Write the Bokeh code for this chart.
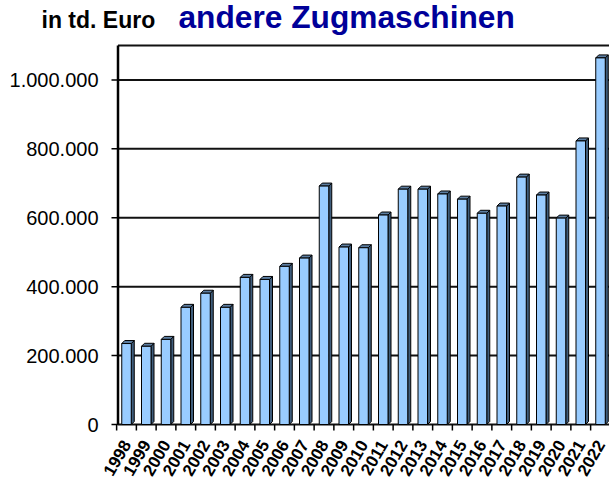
import math
from bokeh.plotting import figure
from bokeh.models import Range1d
from bokeh.core.properties import value
from bokeh.embed import file_html
from bokeh.resources import INLINE

years = ["1998", "1999", "2000", "2001", "2002", "2003", "2004", "2005", "2006",
         "2007", "2008", "2009", "2010", "2011", "2012", "2013", "2014", "2015",
         "2016", "2017", "2018", "2019", "2020", "2021", "2022"]
values = [235000, 227000, 247000, 340000, 381000, 340000, 427000, 421000, 459000,
          483000, 692000, 515000, 513000, 608000, 683000, 683000, 669000, 654000,
          613000, 634000, 718000, 666000, 599000, 823000, 1064000]
y_ticks = [0, 200000, 400000, 600000, 800000, 1000000]
y_tick_labels = ["0", "200.000", "400.000", "600.000", "800.000", "1.000.000"]
y_wall_top = 1100000
unit_label = "in td. Euro"
title_text = "andere Zugmaschinen"

# The page template has no body margin: figure pixels = picture pixels.
W, H = 609, 482
FONT = "Liberation Sans"
C0 = 126.0        # px x of first category centre
PX_X = 19.75      # px per category
Y0_PX = 424       # px y of value 0
WALL_TOP_PX = 45
PX_Y = (Y0_PX - WALL_TOP_PX) / y_wall_top

def xd(px):
    return (px - C0) / PX_X

def yd(py):
    return (Y0_PX - py) / PX_Y

p = figure(width=W, height=H,
           x_range=Range1d(xd(0), xd(W)),
           y_range=Range1d(yd(H), yd(0)),
           x_axis_location=None, y_axis_location=None,
           output_backend="svg", toolbar_location=None,
           min_border=0)
p.outline_line_color = None
p.grid.visible = False
p.background_fill_color = "white"
p.border_fill_color = "white"

n = len(years)
xs = list(range(n))
wall_x = xd(117.5)
right_x = xd(W + 2)

# horizontal grid lines on the back wall (incl. floor) and wall top edge
p.segment(x0=[wall_x] * len(y_ticks), y0=y_ticks, x1=[right_x] * len(y_ticks), y1=y_ticks,
          line_color="#111111", line_width=2)
p.segment(x0=[wall_x], y0=[y_wall_top], x1=[right_x], y1=[y_wall_top],
          line_color="#111111", line_width=2)
# left wall
p.segment(x0=[wall_x], y0=[0], x1=[wall_x], y1=[y_wall_top], line_color="black", line_width=2.5)
# y tick marks
p.segment(x0=[xd(111)] * len(y_ticks), y0=y_ticks, x1=[wall_x] * len(y_ticks), y1=y_ticks,
          line_color="black", line_width=1.5)
# x category boundary ticks
bounds = [i - 0.5 for i in range(n + 1)]
p.segment(x0=bounds, y0=[0] * len(bounds), x1=bounds, y1=[yd(430)] * len(bounds),
          line_color="black", line_width=1.5)

# 3D bars
bw = 9.5 / PX_X
dx = 3.0 / PX_X
dy = 3.0 / PX_Y
side_xs, side_ys, top_xs, top_ys = [], [], [], []
for x, v in zip(xs, values):
    r = x + bw / 2
    l = x - bw / 2
    side_xs.append([r, r + dx, r + dx, r])
    side_ys.append([0, dy, v + dy, v])
    top_xs.append([l, l + dx, r + dx, r])
    top_ys.append([v, v + dy, v + dy, v])

p.patches(side_xs, side_ys, fill_color="#3f5d7c", line_color="black", line_width=1)
p.patches(top_xs, top_ys, fill_color="#5c7ea2", line_color="black", line_width=1)
p.vbar(x=xs, width=bw, top=values, bottom=0, fill_color="#99CCFF",
       line_color="black", line_width=1)

# y tick labels
p.text(x=[xd(98)] * len(y_ticks), y=y_ticks, text=y_tick_labels,
       text_font=value(FONT), text_font_size="20px", text_color="black",
       text_align="right", text_baseline="middle")

# x category labels
p.text(x=xs, y=[yd(441)] * n, text=years, angle=math.pi / 3,
       text_font=value(FONT), text_font_style="bold", text_font_size="17px",
       text_color="black", text_align="right", text_baseline="middle")

# header texts
p.text(x=[xd(41)], y=[yd(19)], text=[unit_label],
       text_font=value(FONT), text_font_style="bold", text_font_size="23px",
       text_color="black", text_align="left", text_baseline="middle")
p.text(x=[xd(178)], y=[yd(16)], text=[title_text],
       text_font=value(FONT), text_font_style="bold", text_font_size="31.7px",
       text_color="#000099", text_align="left", text_baseline="middle")

open("out.html", "w").write(file_html(p, INLINE))
